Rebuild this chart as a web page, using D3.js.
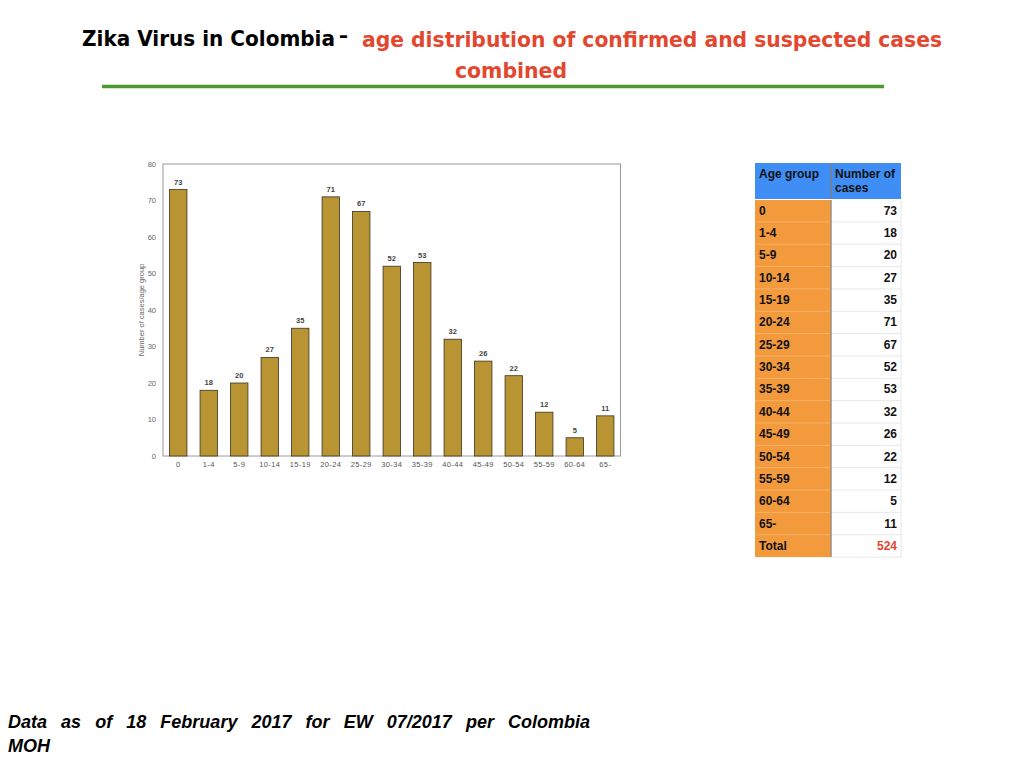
<!DOCTYPE html>
<html>
<head>
<meta charset="utf-8">
<script src="https://cdn.jsdelivr.net/npm/d3@7"></script>
<style>
  html, body { margin: 0; padding: 0; background: #fff; }
  svg { display: block; font-family: "Liberation Sans", Arial, sans-serif; }
</style>
</head>
<body>
<svg id="chart" width="1024" height="768"></svg>
<script>
const ageGroups = ['0', '1-4', '5-9', '10-14', '15-19', '20-24', '25-29', '30-34', '35-39', '40-44', '45-49', '50-54', '55-59', '60-64', '65-'];
const cases = [73, 18, 20, 27, 35, 71, 67, 52, 53, 32, 26, 22, 12, 5, 11];
const yTicks = [0, 10, 20, 30, 40, 50, 60, 70, 80];
const tableHeader = ['Age group', 'Number of cases'];

const svg = d3.select('#chart');

// title
const narrow = '"DejaVu Sans Condensed", "Liberation Sans Narrow", "Liberation Sans", sans-serif';
const title = (xp, yp, txt, col, len) => {
  const t = svg.append('text').attr('x', xp).attr('y', yp).attr('font-family', narrow).attr('font-weight', 'bold')
    .attr('font-size', 22).attr('fill', col).text(txt);
  if (len) t.attr('textLength', len).attr('lengthAdjust', 'spacingAndGlyphs');
  return t;
};
title(82, 46, 'Zika Virus in Colombia', '#000', 253);
title(339, 43, '–', '#000', 9);
title(362, 47, 'age distribution of confirmed and suspected cases', '#e2472f', 580);
title(455, 78, 'combined', '#e2472f', 112);
svg.append('line').attr('x1', 102).attr('x2', 884).attr('y1', 86.5).attr('y2', 86.5)
  .attr('stroke', '#4c9a2f').attr('stroke-width', 3.5);

// bar chart
const x = d3.scaleBand().domain(ageGroups).range([163, 620.5]).paddingInner(0.43).paddingOuter(0.215);
const y = d3.scaleLinear().domain([0, 80]).range([456, 164]);

svg.append('rect').attr('x', 163).attr('y', 164).attr('width', 457.5).attr('height', 292)
  .attr('fill', 'none').attr('stroke', '#9a9a9a').attr('stroke-width', 1);

const yAxis = svg.append('g').attr('transform', 'translate(163,0)')
  .call(d3.axisLeft(y).tickValues(yTicks).tickSize(0).tickPadding(7));
yAxis.select('.domain').remove();
yAxis.selectAll('text').attr('font-size', 7.5).attr('fill', '#666').attr('font-family', 'Liberation Sans, Arial, sans-serif');

const xAxis = svg.append('g').attr('transform', 'translate(0,456)')
  .call(d3.axisBottom(x).tickSize(0).tickPadding(6));
xAxis.select('.domain').remove();
xAxis.selectAll('text').attr('font-size', 7.5).attr('fill', '#555').attr('letter-spacing', 0.4)
  .attr('font-family', 'Liberation Sans, Arial, sans-serif');

svg.append('text').attr('transform', 'translate(144,310) rotate(-90)').attr('text-anchor', 'middle')
  .attr('font-size', 7.5).attr('fill', '#666').text('Number of cases/age group');

svg.append('g').selectAll('rect').data(cases).join('rect')
  .attr('x', (d, i) => x(ageGroups[i]))
  .attr('y', d => y(d))
  .attr('width', x.bandwidth())
  .attr('height', d => y(0) - y(d))
  .attr('fill', '#b99432')
  .attr('stroke', '#3b3222')
  .attr('stroke-width', 0.8);

svg.append('g').selectAll('text').data(cases).join('text')
  .attr('x', (d, i) => x(ageGroups[i]) + x.bandwidth() / 2)
  .attr('y', d => y(d) - 5)
  .attr('text-anchor', 'middle')
  .attr('font-size', 7.5).attr('font-weight', 'bold').attr('fill', '#444')
  .text(d => d);

// table
const tx0 = 755, tx1 = 831, tx2 = 901;
const headTop = 163, rowTop = 199.5, rowH = 22.35;
const rows = ageGroups.map((g, i) => ({ label: g, value: cases[i], total: false }));
rows.push({ label: 'Total', value: d3.sum(cases), total: true });

const tbl = svg.append('g');
tbl.append('rect').attr('x', tx0).attr('y', headTop).attr('width', tx2 - tx0).attr('height', rowTop - headTop).attr('fill', '#3f8ef5');
tbl.append('rect').attr('x', tx0).attr('y', rowTop).attr('width', tx1 - tx0).attr('height', rows.length * rowH).attr('fill', '#f29a3c');
tbl.append('rect').attr('x', tx1).attr('y', rowTop).attr('width', tx2 - tx1).attr('height', rows.length * rowH)
  .attr('fill', '#fff').attr('stroke', '#e2e2e2').attr('stroke-width', 0.8);

tbl.selectAll('line.sep-l').data(rows.slice(1)).join('line').attr('class', 'sep-l')
  .attr('x1', tx0).attr('x2', tx1).attr('y1', (d, i) => rowTop + (i + 1) * rowH).attr('y2', (d, i) => rowTop + (i + 1) * rowH)
  .attr('stroke', '#f6b774').attr('stroke-width', 0.8);
tbl.selectAll('line.sep-r').data(rows.slice(1)).join('line').attr('class', 'sep-r')
  .attr('x1', tx1).attr('x2', tx2).attr('y1', (d, i) => rowTop + (i + 1) * rowH).attr('y2', (d, i) => rowTop + (i + 1) * rowH)
  .attr('stroke', '#e2e2e2').attr('stroke-width', 0.8);
tbl.append('line').attr('x1', tx1).attr('x2', tx1).attr('y1', headTop).attr('y2', rowTop + rows.length * rowH)
  .attr('stroke', '#8a7a6a').attr('stroke-width', 1.2);
tbl.append('line').attr('x1', tx0).attr('x2', tx2).attr('y1', rowTop).attr('y2', rowTop)
  .attr('stroke', '#fff').attr('stroke-width', 1);

tbl.append('text').attr('x', tx0 + 4).attr('y', 178).attr('font-size', 12).attr('font-weight', 'bold').attr('fill', '#111').text(tableHeader[0]);
tbl.append('text').attr('x', tx1 + 4).attr('y', 178).attr('font-size', 12).attr('font-weight', 'bold').attr('fill', '#111').text('Number of');
tbl.append('text').attr('x', tx1 + 4).attr('y', 192).attr('font-size', 12).attr('font-weight', 'bold').attr('fill', '#111').text('cases');

tbl.selectAll('text.lab').data(rows).join('text').attr('class', 'lab')
  .attr('x', tx0 + 4).attr('y', (d, i) => rowTop + i * rowH + rowH / 2 + 4)
  .attr('font-size', 12).attr('font-weight', 'bold').attr('fill', '#111')
  .text(d => d.label);
tbl.selectAll('text.val').data(rows).join('text').attr('class', 'val')
  .attr('x', tx2 - 4).attr('y', (d, i) => rowTop + i * rowH + rowH / 2 + 4)
  .attr('text-anchor', 'end')
  .attr('font-size', 12).attr('font-weight', 'bold').attr('fill', d => d.total ? '#e2472f' : '#111')
  .text(d => d.value);

// footer, justified by widening the gaps between words
const footWidth = 582;
const foot = svg.append('text').attr('x', 8).attr('y', 728).attr('font-size', 18).attr('font-weight', 'bold').attr('font-style', 'italic')
  .attr('fill', '#000').text('Data as of 18 February 2017 for EW 07/2017 per Colombia');
let ws = 0;
for (let k = 0; k < 4; k++) {
  const w = foot.node().getBBox().width;
  ws += (footWidth - w) / 9;
  foot.attr('word-spacing', ws);
}
svg.append('text').attr('x', 8).attr('y', 752).attr('font-size', 18).attr('font-weight', 'bold').attr('font-style', 'italic')
  .attr('fill', '#000').text('MOH');
</script>
</body>
</html>
